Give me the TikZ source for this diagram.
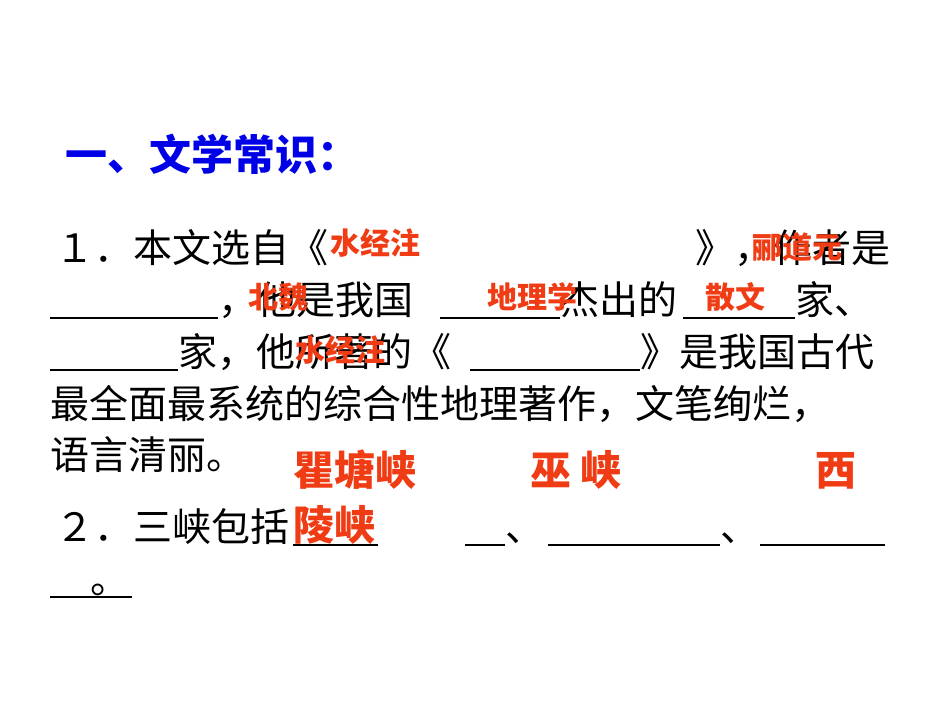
\documentclass[tikz,border=0pt]{standalone}
\usepackage{fontspec}
\newfontfamily\cjk{Noto Sans CJK SC}
\definecolor{ttl}{RGB}{0,0,230}
\definecolor{ans}{RGB}{240,60,20}
\begin{document}
\begin{tikzpicture}[x=1pt,y=-1pt,
  txt/.style={anchor=base west,inner sep=0pt,font=\cjk\fontsize{39}{40}\selectfont},
  red/.style={anchor=base west,inner sep=0pt,text=ans,font=\cjk\fontsize{30}{32}\selectfont\bfseries},
  big/.style={anchor=base west,inner sep=0pt,text=ans,font=\cjk\fontsize{41}{42}\selectfont\bfseries},
  ul/.style={line width=1.3pt}]
\useasboundingbox (0,0) rectangle (950,713);
\node[txt,text=ttl,font=\cjk\fontsize{42}{44}\selectfont\bfseries] (t) at (65,170) {一、文学常识：};
% line 1
\node[txt] (l1a) at (55,262) {１．本文选自《};
\node[txt] (l1b) at (695,262) {》，作者是};
% line 2
\node[txt] (l2a) at (218,314) {，他是我国};
\node[txt] (l2b) at (560,314) {杰出的};
\node[txt] (l2c) at (795,314) {家、};
\draw[ul] (50,318) -- (218,318) (440,318) -- (560,318) (683,318) -- (795,318);
% line 3
\node[txt] (l3a) at (178,366) {家，他所著的《};
\node[txt] (l3b) at (640,366) {》是我国古代};
\draw[ul] (50,370) -- (178,370) (470,370) -- (640,370);
% line 4,5
\node[txt] (l4) at (50,418) {最全面最系统的综合性地理著作，文笔绚烂，};
\node[txt] (l5) at (50,469) {语言清丽。};
% line 6,7
\node[txt] (l6a) at (55,541) {２．三峡包括};
\node[txt] (l6b) at (505,541) {、};
\node[txt] (l6c) at (720,541) {、};
\draw[ul] (293,545) -- (378,545) (465,545) -- (505,545) (548,545) -- (720,545) (760,545) -- (885,545);
\node[txt] (l7) at (90,593) {。};
\draw[ul] (50,597) -- (132,597);
% answers
\node[red] (a1) at (330,254) {水经注};
\node[red] (a2) at (752,258) {郦道元};
\node[red] (a3) at (248,308) {北魏};
\node[red] (a4) at (487,308) {地理学};
\node[red] (a5) at (705,308) {散文};
\node[red] (a6) at (295,361) {水经注};
\node[big] (b1) at (293,485) {瞿塘峡};
\node[big] (b2) at (530,485) {巫\ 峡};
\node[big] (b3) at (815,485) {西};
\node[big] (b4) at (293,540) {陵峡};
\end{tikzpicture}
\end{document}
